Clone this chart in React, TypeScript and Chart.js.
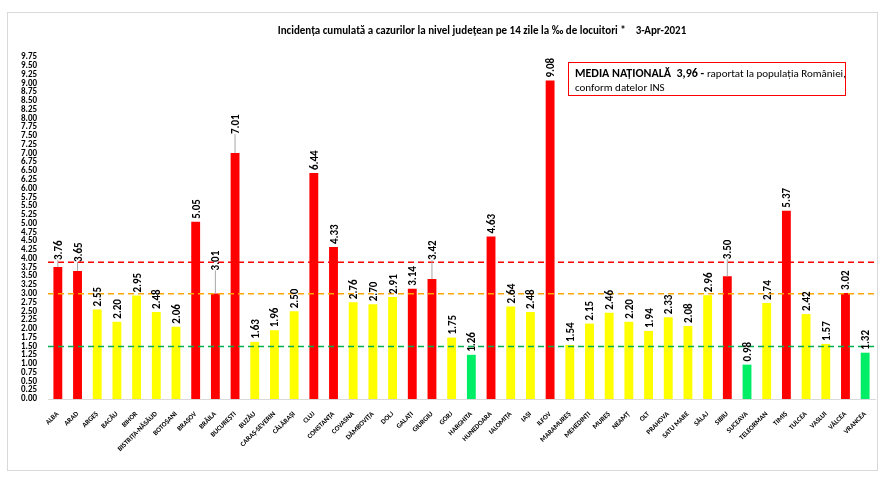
import React, { useEffect, useRef } from "react";
import { Chart, registerables } from "chart.js";

Chart.register(...registerables);

const counties = [
  "ALBA", "ARAD", "ARGEȘ", "BACĂU", "BIHOR", "BISTRIȚA-NĂSĂUD", "BOTOȘANI", "BRAȘOV", "BRĂILA", "BUCUREȘTI",
  "BUZĂU", "CARAȘ-SEVERIN", "CĂLĂRAȘI", "CLUJ", "CONSTANȚA", "COVASNA", "DÂMBOVIȚA", "DOLJ", "GALAȚI", "GIURGIU",
  "GORJ", "HARGHITA", "HUNEDOARA", "IALOMIȚA", "IAȘI", "ILFOV", "MARAMUREȘ", "MEHEDINȚI", "MUREȘ", "NEAMȚ",
  "OLT", "PRAHOVA", "SATU MARE", "SĂLAJ", "SIBIU", "SUCEAVA", "TELEORMAN", "TIMIȘ", "TULCEA", "VASLUI",
  "VÂLCEA", "VRANCEA",
];
const incidence = [
  3.76, 3.65, 2.55, 2.2, 2.95, 2.48, 2.06, 5.05, 3.01, 7.01,
  1.63, 1.96, 2.5, 6.44, 4.33, 2.76, 2.7, 2.91, 3.14, 3.42,
  1.75, 1.26, 4.63, 2.64, 2.48, 9.08, 1.54, 2.15, 2.46, 2.2,
  1.94, 2.33, 2.08, 2.96, 3.5, 0.98, 2.74, 5.37, 2.42, 1.57,
  3.02, 1.32,
];
// counties whose label sits higher with a leader line
const leaderOffsets: Record<number, number> = { 0: 4, 1: 6, 8: 20, 9: 16, 19: 16, 34: 14 };
const nationalAverage = 3.96;
const thresholds = [
  { value: 3.9, color: "#ff0000" },
  { value: 3.0, color: "#ffa500" },
  { value: 1.5, color: "#00b050" },
];

const barColor = (v: number) => (v > 3 ? "#ff0000" : v <= 1.5 ? "#00ee66" : "#ffff00");

const decorPlugin = {
  id: "decor",
  beforeDraw(chart: any) {
    const ctx = chart.ctx;
    ctx.save();
    ctx.fillStyle = "#fff";
    ctx.fillRect(0, 0, chart.width, chart.height);
    ctx.strokeStyle = "#d9d9d9";
    ctx.lineWidth = 1;
    ctx.strokeRect(7.5, 12.5, 870, 458);
    ctx.fillStyle = "#000";
    ctx.font = "bold 11px Calibri, 'Liberation Sans', Arial";
    ctx.textAlign = "center";
    ctx.fillText("Incidența cumulată a cazurilor la nivel județean pe 14 zile la ‰ de locuitori *    3-Apr-2021", 482, 34);
    ctx.restore();
  },
  afterDatasetsDraw(chart: any) {
    const ctx = chart.ctx;
    const y = chart.scales.y;
    const area = chart.chartArea;
    ctx.save();
    ctx.lineWidth = 1.5;
    ctx.setLineDash([6, 4]);
    thresholds.forEach((t) => {
      const py = y.getPixelForValue(t.value);
      ctx.strokeStyle = t.color;
      ctx.beginPath();
      ctx.moveTo(area.left, py);
      ctx.lineTo(area.right + 2, py);
      ctx.stroke();
    });
    ctx.setLineDash([]);
    const meta = chart.getDatasetMeta(0);
    ctx.font = "bold 11px Calibri, 'Liberation Sans', Arial";
    ctx.fillStyle = "#000";
    meta.data.forEach((bar: any, i: number) => {
      const off = leaderOffsets[i] ?? 0;
      const top = bar.y - 3 - off;
      if (off) {
        ctx.strokeStyle = "#a6a6a6";
        ctx.lineWidth = 1;
        ctx.beginPath();
        ctx.moveTo(bar.x, bar.y);
        ctx.lineTo(bar.x, top);
        ctx.stroke();
      }
      ctx.save();
      ctx.translate(bar.x + 4, top);
      ctx.rotate(-Math.PI / 2);
      ctx.textAlign = "left";
      ctx.fillText(incidence[i].toFixed(2), 0, 0);
      ctx.restore();
    });
    // legend box
    ctx.strokeStyle = "#ff0000";
    ctx.lineWidth = 1;
    ctx.strokeRect(568.5, 62.5, 277, 33);
    ctx.fillStyle = "#000";
    ctx.font = "bold 12px Calibri, 'Liberation Sans', Arial";
    ctx.textAlign = "left";
    const s1 = `MEDIA NAȚIONALĂ  ${nationalAverage.toFixed(2).replace(".", ",")} - `;
    ctx.fillText(s1, 575, 77);
    const w = ctx.measureText(s1).width;
    ctx.font = "11px Calibri, 'Liberation Sans', Arial";
    ctx.fillText("raportat la populația României,", 575 + w, 77);
    ctx.fillText("conform datelor INS", 575, 91);
    ctx.restore();
  },
};

export default function App() {
  const ref = useRef<HTMLCanvasElement | null>(null);

  useEffect(() => {
    if (!ref.current) return;
    const chart = new Chart(ref.current, {
      type: "bar",
      data: {
        labels: counties,
        datasets: [
          {
            data: incidence,
            backgroundColor: incidence.map(barColor),
            barPercentage: 0.45,
            categoryPercentage: 1,
          },
        ],
      },
      options: {
        responsive: false,
        animation: false,
        layout: { padding: { left: 10, right: 9, top: 57, bottom: 0 } },
        plugins: { legend: { display: false }, tooltip: { enabled: false } },
        scales: {
          x: {
            grid: { display: false },
            border: { display: true, color: "#d9d9d9" },
            ticks: {
              autoSkip: false,
              maxRotation: 45,
              minRotation: 45,
              color: "#000",
              font: { size: 7, weight: "bold", family: "Calibri, 'Liberation Sans', Arial" },
            },
            afterFit(s: any) {
              s.height = 84;
            },
          },
          y: {
            min: 0,
            max: 9.75,
            grid: { display: false },
            border: { display: false },
            ticks: {
              stepSize: 0.25,
              autoSkip: false,
              color: "#000",
              font: { size: 9, weight: "bold", family: "Calibri, 'Liberation Sans', Arial" },
              callback: (v: any) => Number(v).toFixed(2),
            },
            afterFit(s: any) {
              s.width = 38;
            },
          },
        },
      },
      plugins: [decorPlugin],
    } as any);
    return () => chart.destroy();
  }, []);

  return (
    <div style={{ position: "absolute", left: 0, top: 0 }}>
      <canvas ref={ref} width={884} height={483}></canvas>
    </div>
  );
}
